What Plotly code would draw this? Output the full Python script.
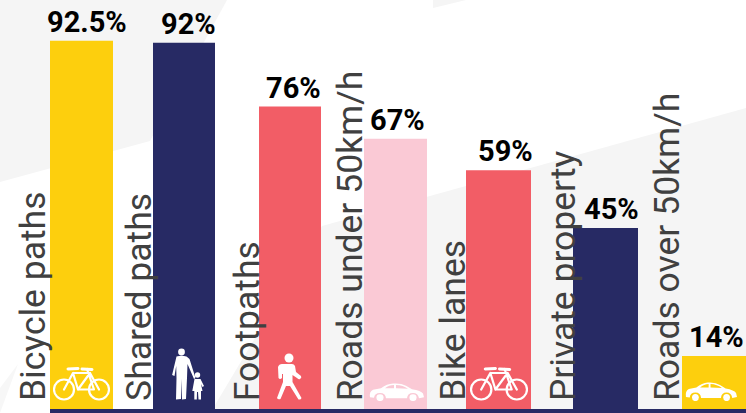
import base64
import plotly.graph_objects as go

categories = ["Bicycle paths", "Shared paths", "Footpaths", "Roads under 50km/h",
              "Bike lanes", "Private property", "Roads over 50km/h"]
value_labels = ["92.5%", "92%", "76%", "67%", "59%", "45%", "14%"]
bar_heights = [92.5, 92.0, 76.0, 67.9, 60.0, 45.5, 13.3]

NAVY, YELLOW, CORAL, PINK = "#272a64", "#fdcf0d", "#f25d66", "#fac9d5"
bar_colors = [YELLOW, NAVY, CORAL, PINK, CORAL, NAVY, YELLOW]
W, H = 746, 413
BASE_PX = 409
PX_PER_UNIT = 3.98
STEP = 105.42
FIRST = 81.5

# bar placement in pixels (the source chart's bars are not quite evenly spaced)
bar_left = [50, 153, 259, 364, 466, 573, 682]
bar_right = [113, 215, 321, 427, 531, 638, 746]
label_shift = [-49, -48, -45, -48, -51, -46, -47]
value_shift = [5, 2, 1, 0, 2, 3, 2]

def cat_px(i):
    return FIRST + STEP * i

offsets = [(l - cat_px(i)) / STEP for i, l in enumerate(bar_left)]
widths = [(r - l) / STEP for l, r in zip(bar_left, bar_right)]

def poly(points, color):
    d = "M" + " L".join(f"{x / W:.5f},{1 - y / H:.5f}" for x, y in points) + " Z"
    return dict(type="path", xref="paper", yref="paper", path=d, fillcolor=color,
                line_width=0, layer="below")

BIKE = ('<svg xmlns="http://www.w3.org/2000/svg" viewBox="0 0 57 34"><g fill="none" stroke="#fff" '
        'stroke-width="2.2" stroke-linecap="round" stroke-linejoin="round">'
        '<circle cx="11" cy="22.5" r="10"/><circle cx="46" cy="22.5" r="10"/>'
        '<path d="M11 22.5 L20 6 L37 6 L46 22.5 M20 6 L25 22.5 L41 22.5 L35 5 L34 2 M25 22.5 L37 6"/>'
        '<path d="M15 2 L25 1.5 M29 2 L39 2.5" stroke-width="3"/></g></svg>')
ADULT_CHILD = ('<svg xmlns="http://www.w3.org/2000/svg" viewBox="0 0 33 52"><g fill="#fff">'
               '<circle cx="10" cy="4" r="3.4"/>'
               '<path d="M5 8.5 Q10 7 15 8.5 L18 11 L24 30 L22.5 31 L16 16 L15.5 30 L14.5 51 '
               'L10.5 51.5 L10 31 L9.5 51 L4.5 51.5 L5 30 L4.7 18 L3 28 L0.6 27 Z"/>'
               '<circle cx="26" cy="27" r="2.7"/>'
               '<path d="M23 31 L29 31 L32.5 38 L31 39 L29.5 36 L31 43 L29.5 43 L29.5 51.5 L27 51.5 '
               'L26.5 44 L25.5 44 L25.3 51.5 L22.8 51.5 L22.8 43 L20.8 43 Z"/></g></svg>')
WALKER = ('<svg xmlns="http://www.w3.org/2000/svg" viewBox="0 0 25 47"><g fill="#fff">'
          '<circle cx="12" cy="5" r="4.5"/>'
          '<path d="M5 11 L15 11 Q17 11 18 13 L19 19 L24 23 Q25 25 23 26 Q22 27 20 25 L15.5 22 L15.5 29 '
          'L24.5 45 Q24 47 21.5 46.5 L13 33 L9 33 L3.5 46 Q1 47 0 45 L6 29 L6 21 L5 21 L5 25 Q3 27 1.5 25 '
          'L1 14 Q2 11 5 11 Z"/></g></svg>')
CAR = ('<svg xmlns="http://www.w3.org/2000/svg" viewBox="0 0 55 19" preserveAspectRatio="none"><g fill="#fff">'
       '<path fill-rule="evenodd" d="M1 15 Q0 9 4 7 L12 5.5 Q18 1 24 0.6 Q32 0 37 3 L43 6.5 Q52 8 54 11 L55 15 '
       'L50 16 Q49 10.5 44 10.5 Q38.5 10.5 38 16 L17 16 Q16.5 10.5 11 10.5 Q5.5 10.5 5 15.5 Z '
       'M16 5.5 L25 5.5 L25 2 Q20 2 16 5.5 Z M27 5.5 L39 6 Q34 2.3 27 2 Z"/>'
       '<circle cx="11" cy="15.5" r="3.6"/><circle cx="44" cy="15.5" r="3.6"/></g></svg>')

def icon(svg, x0, y0, x1, y1):
    uri = "data:image/svg+xml;base64," + base64.b64encode(svg.encode()).decode()
    return dict(source=uri, xref="paper", yref="paper", x=x0 / W, y=1 - y0 / H,
                sizex=(x1 - x0) / W, sizey=(y1 - y0) / H, xanchor="left", yanchor="top",
                sizing="stretch", layer="above")

fig = go.Figure(go.Bar(x=categories, y=bar_heights, marker=dict(color=bar_colors, line_width=0),
                       width=widths, offset=offsets, hoverinfo="skip"))

annotations = []
for i, cat in enumerate(categories):
    annotations.append(dict(x=cat, y=0, xref="x", yref="y", text=cat, textangle=-90, showarrow=False,
                            xanchor="center", yanchor="bottom", xshift=label_shift[i], yshift=6,
                            font=dict(family="Roboto", size=35.5, color="#404040")))
    annotations.append(dict(x=cat, y=bar_heights[i], xref="x", yref="y", text=f"<b>{value_labels[i]}</b>",
                            showarrow=False, xanchor="center", yanchor="bottom", xshift=value_shift[i], yshift=0,
                            font=dict(family="Roboto", size=29, color="#000000")))

shapes = [
    poly([(0, 0), (227, 0), (150, 141), (0, 182)], "#f5f5f5"),
    poly([(433, 0), (466, 0), (433, 8)], "#f5f5f5"),
    poly([(0, 388), (18, 364), (0, 413)], "#f7f7f7"),
    poly([(746, 108), (746, 413), (215, 413), (215, 405), (322, 226)], "#f5f5f5"),
    dict(type="rect", xref="paper", yref="paper", x0=50 / W, x1=1, y0=0, y1=4 / H,
         fillcolor=NAVY, line_width=0, layer="above"),
]

images = [
    icon(BIKE, 53, 367, 110, 401),
    icon(ADULT_CHILD, 171.5, 348, 204.5, 400),
    icon(WALKER, 277, 353, 302, 400),
    icon(CAR, 369, 383, 424, 401),
    icon(BIKE, 470, 367, 528, 401),
    icon(CAR, 685, 382, 737, 401),
]

fig.update_layout(
    width=W, height=H, margin=dict(l=0, r=0, t=0, b=0), autosize=False,
    paper_bgcolor="#ffffff", plot_bgcolor="rgba(0,0,0,0)", showlegend=False,
    shapes=shapes, images=images, annotations=annotations,
    xaxis=dict(range=[-FIRST / STEP, (W - FIRST) / STEP], visible=False, type="category", fixedrange=True),
    yaxis=dict(range=[-(H - BASE_PX) / PX_PER_UNIT, BASE_PX / PX_PER_UNIT], visible=False, fixedrange=True),
)
fig.write_html("out.html", config=dict(displayModeBar=False),
               post_script="document.body.style.margin='0';")
